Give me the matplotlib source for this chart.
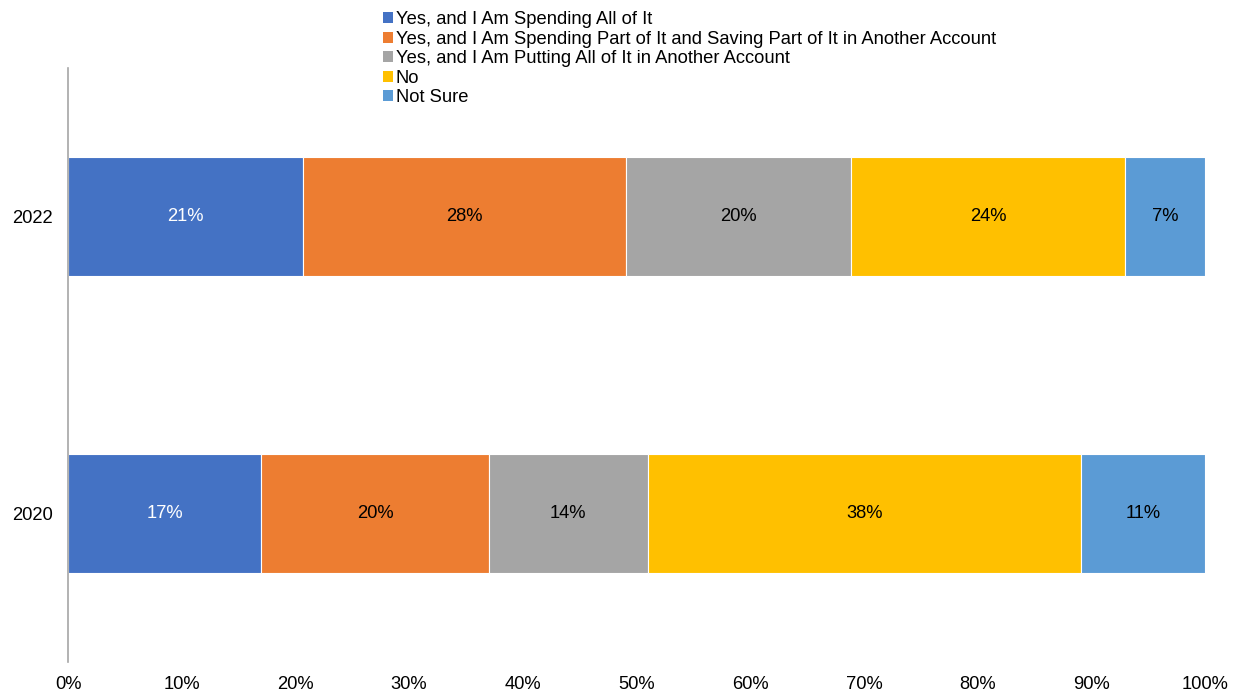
import matplotlib.pyplot as plt
from matplotlib.patches import Patch

plt.rcParams['font.family'] = ['Liberation Sans', 'DejaVu Sans']
plt.rcParams['font.size'] = 13.2

years = ['2020', '2022']
labels = ['Yes, and I Am Spending All of It',
          'Yes, and I Am Spending Part of It and Saving Part of It in Another Account',
          'Yes, and I Am Putting All of It in Another Account',
          'No',
          'Not Sure']
# shares per year (2020, 2022), in percent
spend_all = [17.0, 20.7]
spend_part = [20.0, 28.4]
save_all = [14.0, 19.8]
no = [38.1, 24.1]
not_sure = [10.9, 7.0]
series = [spend_all, spend_part, save_all, no, not_sure]
colors = ['#4472C4', '#ED7D31', '#A5A5A5', '#FFC000', '#5B9BD5']
text_colors = ['white', 'black', 'black', 'black', 'black']

fig = plt.figure(figsize=(12.33, 6.96), dpi=100)
ax = fig.add_axes([68 / 1233, 34 / 696, (1205 - 68) / 1233, 594 / 696])

left = [0.0, 0.0]
for vals, col, tc in zip(series, colors, text_colors):
    bars = ax.barh(range(len(years)), [v / 100 for v in vals], left=left, height=0.4,
                   color=col, edgecolor='white', linewidth=0.8)
    for b, v in zip(bars, vals):
        ax.text(b.get_x() + b.get_width() / 2, b.get_y() + b.get_height() / 2,
                f'{round(v):.0f}%', ha='center', va='center', color=tc)
    left = [l + v / 100 for l, v in zip(left, vals)]

ax.set_xlim(0, 1)
ax.set_ylim(-0.5, 1.5)
ax.set_yticks(range(len(years)))
ax.set_yticklabels(years)
ax.set_xticks([i / 10 for i in range(11)])
ax.set_xticklabels([f'{i * 10}%' for i in range(11)])
ax.tick_params(length=0)
ax.tick_params(axis='x', pad=10)
ax.tick_params(axis='y', pad=11)
for s in ['top', 'right', 'bottom']:
    ax.spines[s].set_visible(False)
ax.spines['left'].set_color('#a6a6a6')
ax.spines['left'].set_linewidth(1.2)

handles = [Patch(facecolor=c, edgecolor='none') for c in colors]
fig.legend(handles, labels, loc='upper left', bbox_to_anchor=(372 / 1233, 1.0),
           frameon=False, handlelength=0.55, handleheight=0.55, handletextpad=0.15,
           labelspacing=0.14, borderaxespad=0.2)

fig.savefig('out.png', dpi=100)
